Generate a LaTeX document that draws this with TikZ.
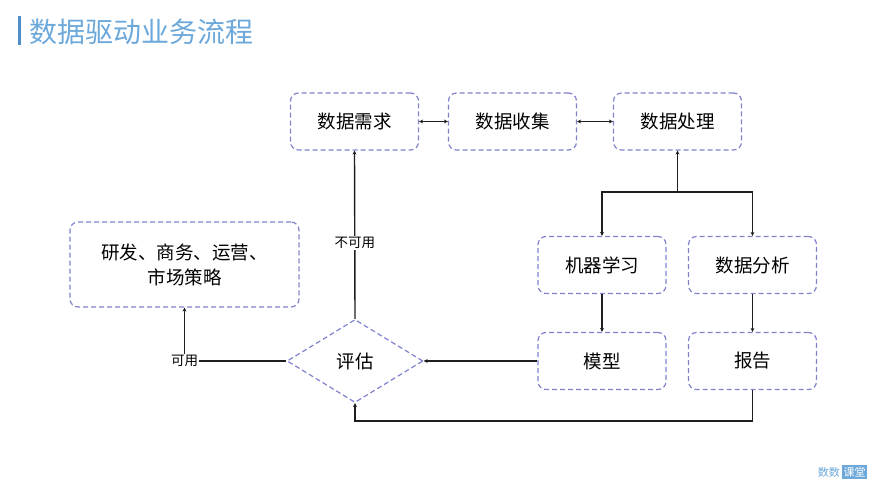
\documentclass[tikz,border=0pt]{standalone}
\usepackage{fontspec}
\setmainfont{Noto Sans CJK SC}
\usetikzlibrary{shapes.geometric,arrows.meta}
\definecolor{boxc}{RGB}{128,130,205}
\definecolor{titlec}{RGB}{108,168,218}
\definecolor{barc}{RGB}{80,140,200}
\definecolor{linec}{RGB}{30,30,30}
\begin{document}
\begin{tikzpicture}[x=1pt,y=-1pt,
 box/.style={draw=boxc, dash pattern=on 5pt off 3pt, line width=1.2pt, rounded corners=8pt, minimum width=128pt, minimum height=57pt, font=\fontsize{18.5}{25}\selectfont, align=center, inner sep=0pt},
 conn/.style={draw=linec, line width=1.4pt},
 tip/.style={-{Stealth[length=4pt,width=4pt]}},
 both/.style={{Stealth[length=4pt,width=4pt]}-{Stealth[length=4pt,width=4pt]}},
 lbl/.style={font=\fontsize{13.5}{15}\selectfont, fill=white, inner sep=1pt}
]
\useasboundingbox (0,0) rectangle (888,500);
% title
\fill[barc] (18,16) rectangle (21,45);
\node[anchor=west, text=titlec, font=\fontsize{28}{30}\selectfont, inner sep=0pt] (title) at (29,32) {数据驱动业务流程};
% boxes
\node[box] (req) at (354.5,121.5) {数据需求};
\node[box] (col) at (512.5,121.5) {数据收集};
\node[box] (proc) at (677.5,121.5) {数据处理};
\node[box] (ml) at (602,265) {机器学习};
\node[box] (da) at (752.5,265) {数据分析};
\node[box] (model) at (602,361) {模型};
\node[box] (report) at (752.5,361) {报告};
\node[box, minimum width=229pt, minimum height=85pt] (rd) at (184.5,264.5) {研发、商务、运营、\\市场策略};
\node[diamond, draw=boxc, dash pattern=on 5pt off 3pt, line width=1.2pt, minimum width=136pt, minimum height=83pt, inner sep=0pt, font=\fontsize{18.5}{25}\selectfont] (eval) at (355,361) {评估};
% connectors
\draw[conn,both] (req) -- (col);
\draw[conn,both] (col) -- (proc);
\coordinate (j) at (677.5,192);
\coordinate (bot) at (0,421);
\draw[conn,line width=1.8pt,{Stealth[length=4pt,width=4pt]}-] (proc.south) -- (j);
\draw[conn,tip] (j) -| (ml.north);
\draw[conn,tip] (j) -| (da.north);
\draw[conn,tip] (ml) -- (model);
\draw[conn,tip] (da) -- (report);
\draw[conn,tip] (model.west) -- (eval.east);
\draw[conn,tip] (report.south) -- (report.south |- bot) -| (eval.south);
\draw[conn,tip] (eval.north) -- node[lbl, pos=0.45] {不可用} (req.south);
\draw[conn,tip] (eval.west) -| node[lbl, pos=0.5] {可用} (rd.south);
% logo
\node[text=titlec, font=\fontsize{11}{12}\selectfont, anchor=east, inner sep=0pt] (logoa) at (840,472) {数数};
\node[fill=titlec, text=white, font=\fontsize{11}{12}\selectfont, anchor=west, inner sep=1.5pt] (logob) at (842,472) {课堂};
\end{tikzpicture}
\end{document}
